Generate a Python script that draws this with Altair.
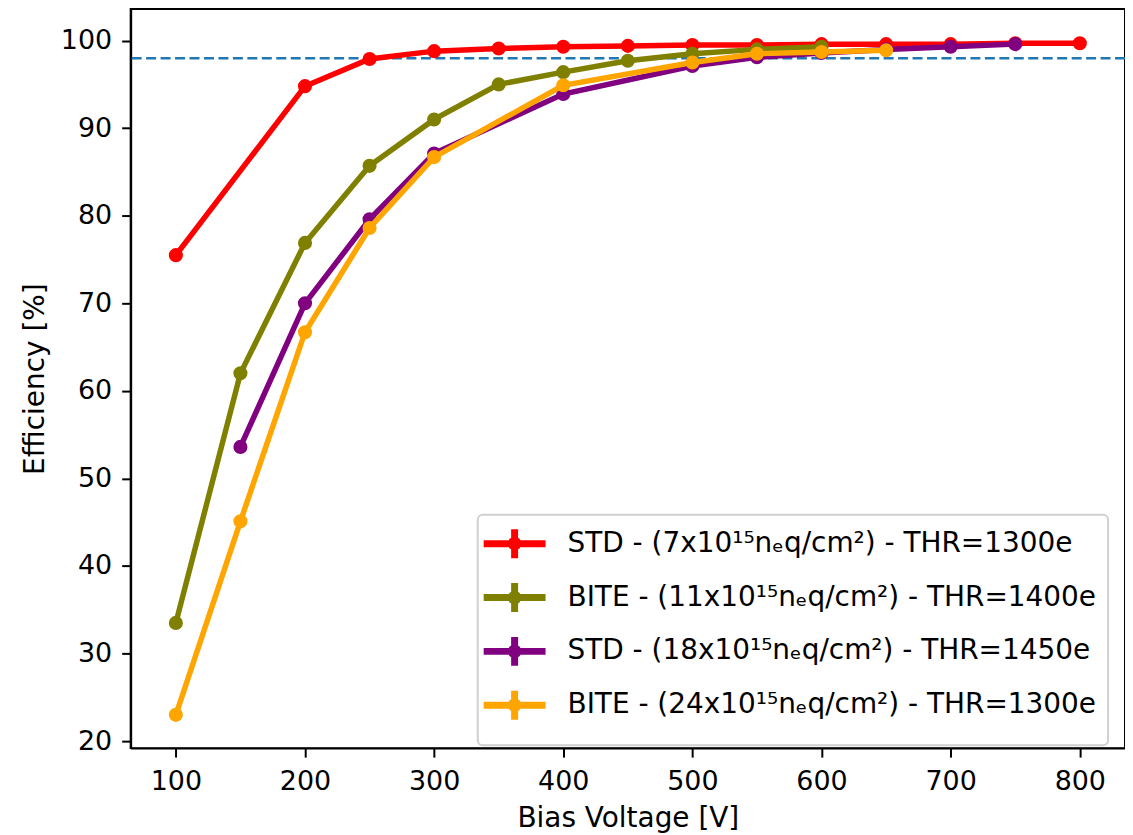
import altair as alt
import pandas as pd

labels = [
    "STD - (7x10¹⁵nₑq/cm²) - THR=1300e",
    "BITE - (11x10¹⁵nₑq/cm²) - THR=1400e",
    "STD - (18x10¹⁵nₑq/cm²) - THR=1450e",
    "BITE - (24x10¹⁵nₑq/cm²) - THR=1300e",
]
colors = ["#ff0000", "#808000", "#800080", "#ffa500"]

std7_v = [100, 200, 250, 300, 350, 400, 450, 500, 550, 600, 650, 700, 750, 800]
std7_eff = [75.5, 94.8, 97.9, 98.8, 99.1, 99.3, 99.4, 99.5, 99.5, 99.6, 99.6, 99.6, 99.7, 99.7]

bite11_v = [100, 150, 200, 250, 300, 350, 400, 450, 500, 550, 600]
bite11_eff = [33.5, 62.0, 76.9, 85.7, 91.0, 95.0, 96.4, 97.7, 98.5, 99.0, 99.3]

std18_v = [150, 200, 250, 300, 400, 500, 550, 600, 650, 700, 750]
std18_eff = [53.6, 70.0, 79.6, 87.1, 93.9, 97.1, 98.1, 98.6, 99.0, 99.3, 99.6]

bite24_v = [100, 150, 200, 250, 300, 400, 500, 550, 600, 650]
bite24_eff = [23.0, 45.1, 66.7, 78.6, 86.7, 94.9, 97.5, 98.5, 98.7, 98.9]

threshold = [98]
x_ticks = [100, 200, 300, 400, 500, 600, 700, 800]
y_ticks = [20, 30, 40, 50, 60, 70, 80, 90, 100]

series_v = [std7_v, bite11_v, std18_v, bite24_v]
series_e = [std7_eff, bite11_eff, std18_eff, bite24_eff]

rows = []
for lab, vs, es in zip(labels, series_v, series_e):
    for v, e in zip(vs, es):
        rows.append({"series": lab, "voltage": v, "eff": e})
df = pd.DataFrame(rows)

FONT = "DejaVu Sans"

xenc = alt.X(
    "voltage:Q",
    scale=alt.Scale(domain=[65, 835], nice=False, zero=False),
    axis=alt.Axis(values=x_ticks, title="Bias Voltage [V]", labelPadding=11, titlePadding=11),
)
yenc = alt.Y(
    "eff:Q",
    scale=alt.Scale(domain=[19.2, 103.6], nice=False, zero=False),
    axis=alt.Axis(values=y_ticks, title="Efficiency [%]", labelPadding=10, titlePadding=11),
)
cscale = alt.Scale(domain=labels, range=colors)

legend = alt.Legend(
    title=None,
    orient="none",
    legendX=348,
    legendY=507,
    symbolType="M-1.59,0H2.69M0.55,-1V1M0.785,0A0.235,0.235 0 1,1 0.315,0A0.235,0.235 0 1,1 0.785,0",
    symbolSize=841,
    symbolStrokeWidth=7,
    labelFontSize=28,
    labelFont=FONT,
    labelColor="black",
    labelLimit=0,
    labelOffset=43,
    rowPadding=-4,
    padding=11,
    strokeColor="#d0d0d0",
    fillColor="white",
    cornerRadius=5,
)

rule = alt.Chart(pd.DataFrame({"eff": threshold})).mark_rule(
    color="#1f77b4", strokeDash=[10, 4.5], strokeWidth=2.5
).encode(y=alt.Y("eff:Q"))

layers = [rule]
for lab in labels:
    sub = alt.Chart(df).transform_filter(alt.datum.series == lab)
    line = sub.mark_line(strokeWidth=5.5).encode(
        x=xenc, y=yenc, stroke=alt.Stroke("series:N", scale=cscale, legend=legend)
    )
    pts = sub.mark_circle(size=200, opacity=1).encode(
        x=xenc, y=yenc, fill=alt.Fill("series:N", scale=cscale, legend=None)
    )
    layers += [line, pts]

chart = (
    alt.layer(*layers)
    .properties(
        width=997,
        height=741,
        autosize=alt.AutoSizeParams(type="none"),
        padding={"left": 123, "top": 0, "right": 0, "bottom": 87},
    )
    .configure_view(stroke="black", strokeWidth=2)
    .configure_axis(
        grid=False,
        domainColor="black",
        domainWidth=2,
        tickColor="black",
        tickWidth=2,
        tickSize=9,
        labelFont=FONT,
        labelFontSize=27,
        labelColor="black",
        titleFont=FONT,
        titleFontSize=28,
        titleFontWeight="normal",
        titleColor="black",
    )
    .configure_legend(strokeWidth=2)
)

chart.save("out.html", embed_options={"renderer": "svg", "actions": False})
